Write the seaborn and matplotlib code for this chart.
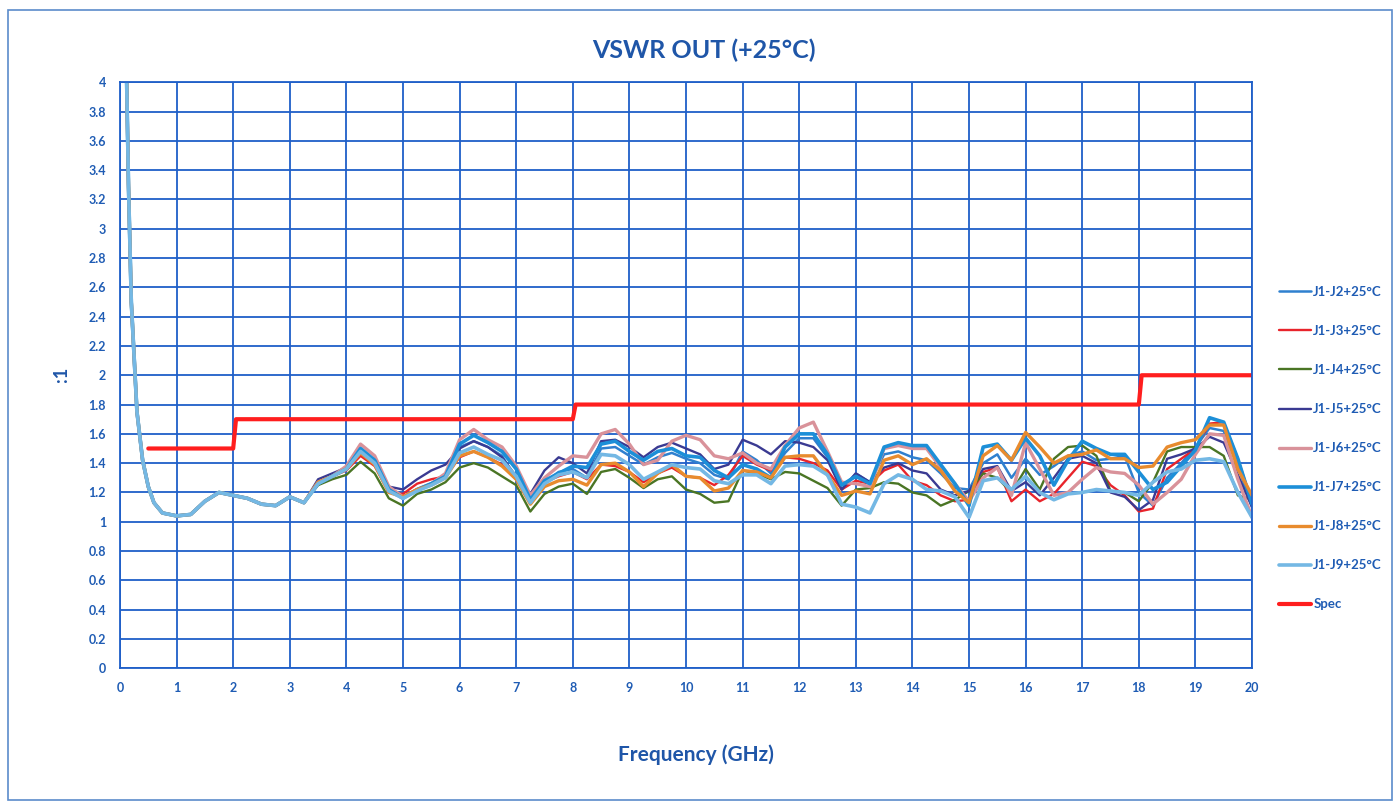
import numpy as np
import pandas as pd
import seaborn as sns
import matplotlib.pyplot as plt
from matplotlib.patches import Rectangle
from matplotlib.ticker import FormatStrFormatter

# ---- data ----
low_freq = [0.1, 0.15, 0.2, 0.3, 0.4, 0.5, 0.6, 0.75, 1.0, 1.25, 1.5, 1.75,
            2.0, 2.25, 2.5, 2.75, 3.0, 3.25]
low_vswr = [4.4, 3.3, 2.5, 1.75, 1.42, 1.24, 1.13, 1.06, 1.04, 1.05, 1.14, 1.20,
            1.18, 1.16, 1.12, 1.11, 1.17, 1.13]

high_freq = list(np.arange(3.5, 20.01, 0.25))

j2 = [1.27, 1.31,
      1.36, 1.49, 1.41, 1.22,  1.17, 1.22, 1.26, 1.31,  1.51, 1.55, 1.51, 1.45,
      1.29, 1.14, 1.27, 1.34,  1.36, 1.30, 1.50, 1.51,  1.45, 1.39, 1.44, 1.47,
      1.43, 1.40, 1.32, 1.29,  1.48, 1.42, 1.33, 1.47,  1.57, 1.57, 1.44, 1.22,
      1.33, 1.27, 1.46, 1.48,  1.44, 1.42, 1.33, 1.23,  1.22, 1.40, 1.46, 1.30,
      1.43, 1.32, 1.38, 1.45,  1.48, 1.42, 1.43, 1.45,  1.20, 1.11, 1.30, 1.40,
      1.51, 1.64, 1.62, 1.38,  1.10]
j3 = [1.27, 1.31,
      1.35, 1.45, 1.38, 1.20,  1.19, 1.26, 1.29, 1.31,  1.44, 1.48, 1.44, 1.39,
      1.29, 1.14, 1.27, 1.31,  1.34, 1.29, 1.39, 1.38,  1.34, 1.27, 1.33, 1.37,
      1.31, 1.30, 1.25, 1.32,  1.45, 1.39, 1.35, 1.44,  1.43, 1.40, 1.35, 1.22,
      1.28, 1.26, 1.35, 1.39,  1.28, 1.25, 1.18, 1.14,  1.15, 1.34, 1.37, 1.14,
      1.22, 1.14, 1.19, 1.30,  1.41, 1.38, 1.25, 1.18,  1.07, 1.09, 1.36, 1.43,
      1.50, 1.67, 1.68, 1.43,  1.13]
j4 = [1.25, 1.29,
      1.32, 1.41, 1.33, 1.16,  1.11, 1.19, 1.22, 1.27,  1.37, 1.40, 1.37, 1.31,
      1.25, 1.07, 1.19, 1.24,  1.26, 1.19, 1.34, 1.36,  1.30, 1.23, 1.29, 1.31,
      1.22, 1.19, 1.13, 1.14,  1.35, 1.33, 1.29, 1.34,  1.33, 1.28, 1.23, 1.11,
      1.22, 1.23, 1.27, 1.26,  1.20, 1.18, 1.11, 1.15,  1.21, 1.33, 1.30, 1.20,
      1.36, 1.22, 1.43, 1.51,  1.52, 1.45, 1.21, 1.20,  1.14, 1.27, 1.48, 1.51,
      1.51, 1.51, 1.45, 1.18,  1.15]
j5 = [1.29, 1.33,
      1.37, 1.48, 1.42, 1.24,  1.22, 1.29, 1.35, 1.39,  1.50, 1.55, 1.51, 1.44,
      1.31, 1.19, 1.35, 1.44,  1.40, 1.33, 1.55, 1.56,  1.51, 1.44, 1.51, 1.54,
      1.50, 1.46, 1.36, 1.39,  1.56, 1.52, 1.46, 1.55,  1.54, 1.51, 1.42, 1.22,
      1.33, 1.27, 1.37, 1.40,  1.35, 1.33, 1.22, 1.18,  1.21, 1.36, 1.38, 1.21,
      1.27, 1.18, 1.30, 1.43,  1.45, 1.40, 1.20, 1.17,  1.08, 1.15, 1.43, 1.46,
      1.50, 1.58, 1.54, 1.32,  1.10]
j6 = [1.27, 1.31,
      1.38, 1.53, 1.45, 1.24,  1.17, 1.22, 1.26, 1.33,  1.56, 1.63, 1.56, 1.51,
      1.38, 1.18, 1.30, 1.38,  1.45, 1.44, 1.60, 1.63,  1.53, 1.39, 1.42, 1.55,
      1.59, 1.56, 1.45, 1.43,  1.47, 1.40, 1.36, 1.52,  1.64, 1.68, 1.48, 1.27,
      1.26, 1.24, 1.50, 1.52,  1.50, 1.50, 1.37, 1.26,  1.14, 1.30, 1.37, 1.18,
      1.54, 1.36, 1.18, 1.20,  1.29, 1.37, 1.34, 1.33,  1.25, 1.12, 1.20, 1.29,
      1.46, 1.60, 1.59, 1.29,  1.03]
j7 = [1.26, 1.31,
      1.36, 1.50, 1.42, 1.22,  1.16, 1.22, 1.26, 1.31,  1.53, 1.59, 1.54, 1.48,
      1.36, 1.15, 1.28, 1.33,  1.38, 1.37, 1.53, 1.55,  1.48, 1.42, 1.48, 1.50,
      1.45, 1.44, 1.35, 1.30,  1.39, 1.36, 1.30, 1.51,  1.60, 1.60, 1.46, 1.25,
      1.31, 1.26, 1.51, 1.54,  1.52, 1.52, 1.39, 1.26,  1.11, 1.51, 1.53, 1.42,
      1.57, 1.45, 1.25, 1.42,  1.55, 1.50, 1.46, 1.46,  1.34, 1.22, 1.27, 1.38,
      1.49, 1.71, 1.68, 1.43,  1.12]
j8 = [1.27, 1.31,
      1.36, 1.47, 1.39, 1.20,  1.17, 1.22, 1.25, 1.30,  1.45, 1.48, 1.44, 1.38,
      1.29, 1.12, 1.24, 1.28,  1.29, 1.25, 1.39, 1.40,  1.34, 1.24, 1.33, 1.39,
      1.31, 1.30, 1.21, 1.23,  1.35, 1.34, 1.30, 1.44,  1.45, 1.45, 1.32, 1.18,
      1.21, 1.19, 1.42, 1.45,  1.39, 1.43, 1.35, 1.21,  1.13, 1.45, 1.52, 1.42,
      1.61, 1.51, 1.40, 1.45,  1.46, 1.49, 1.43, 1.43,  1.37, 1.38, 1.51, 1.54,
      1.56, 1.66, 1.66, 1.36,  1.18]
j9 = [1.26, 1.31,
      1.36, 1.48, 1.40, 1.21,  1.16, 1.21, 1.25, 1.30,  1.47, 1.51, 1.46, 1.42,
      1.31, 1.13, 1.26, 1.32,  1.34, 1.30, 1.46, 1.45,  1.39, 1.29, 1.34, 1.39,
      1.37, 1.36, 1.28, 1.26,  1.32, 1.32, 1.26, 1.38,  1.39, 1.38, 1.32, 1.12,
      1.10, 1.06, 1.26, 1.32,  1.29, 1.22, 1.21, 1.17,  1.03, 1.28, 1.30, 1.22,
      1.31, 1.20, 1.15, 1.19,  1.20, 1.22, 1.21, 1.20,  1.18, 1.27, 1.34, 1.36,
      1.42, 1.43, 1.41, 1.20,  1.03]

spec_freq = [0.5, 2.0, 2.05, 8.0, 8.05, 18.0, 18.05, 20.0]
spec_vswr = [1.5, 1.5, 1.7, 1.7, 1.8, 1.8, 2.0, 2.0]

series_names = ['J1-J2+25°C', 'J1-J3+25°C', 'J1-J4+25°C', 'J1-J5+25°C',
                'J1-J6+25°C', 'J1-J7+25°C', 'J1-J8+25°C', 'J1-J9+25°C']
series_vals = [j2, j3, j4, j5, j6, j7, j8, j9]
series_colors = ['#2F80CF', '#E8242B', '#4A7524', '#3A3A92',
                 '#D9929A', '#1C8FD8', '#E88B2E', '#74B8E4']
series_widths = [1.8, 1.7, 1.7, 1.7, 2.4, 2.6, 2.4, 2.6]

blue_txt = '#1F5CB4'
grid_blue = '#1F5FC8'

# ---- plot ----
sns.set_style('white')
plt.rcParams['font.family'] = ['Lato', 'DejaVu Sans']

fig = plt.figure(figsize=(14, 8.11), dpi=100)
ax = fig.add_axes([0.0857, 0.176, 0.8086, 0.7226])

for name, vals, c, w in zip(series_names, series_vals, series_colors, series_widths):
    sns.lineplot(x=low_freq + high_freq, y=low_vswr + vals, color=c, lw=w,
                 label=name, ax=ax)
sns.lineplot(x=spec_freq, y=spec_vswr, color='#FF1E1E', lw=3.0, label='Spec', ax=ax)

ax.set_xlim(0, 20)
ax.set_ylim(0, 4)
ax.set_xticks(range(0, 21))
ax.set_yticks(np.arange(0, 4.01, 0.2))
ax.yaxis.set_major_formatter(FormatStrFormatter('%g'))
ax.grid(True, color=grid_blue, lw=1.3)
ax.set_axisbelow(True)
for s in ax.spines.values():
    s.set_color(grid_blue)
    s.set_linewidth(1.3)
ax.tick_params(length=0, labelsize=9, labelcolor=blue_txt, pad=10)
for lab in ax.get_xticklabels() + ax.get_yticklabels():
    lab.set_fontweight('bold')
ax.set_xlabel('')
ax.set_ylabel('')

fig.text(0.503, 0.938, 'VSWR OUT (+25°C)', ha='center', va='center',
         fontsize=18, fontweight='bold', color='#1F56A8')
fig.text(0.497, 0.069, 'Frequency (GHz)', ha='center', va='center',
         fontsize=15, fontweight='bold', color='#1F56A8')
fig.text(0.044, 0.538, ':1', ha='center', va='center', rotation=90,
         fontsize=13, fontweight='bold', color='#1F56A8')

leg = ax.legend(loc='upper left', bbox_to_anchor=(0.905, 0.662),
                bbox_transform=fig.transFigure, frameon=False, fontsize=9.5,
                labelspacing=2.05, handlelength=2.4, handletextpad=0.2)
for t in leg.get_texts():
    t.set_color(blue_txt)
    t.set_fontweight('bold')

fig.patches.append(Rectangle((0.006, 0.014), 0.988, 0.974, transform=fig.transFigure,
                             fill=False, edgecolor='#5B8BCB', lw=1.2))

fig.savefig('out.png', dpi=100)
